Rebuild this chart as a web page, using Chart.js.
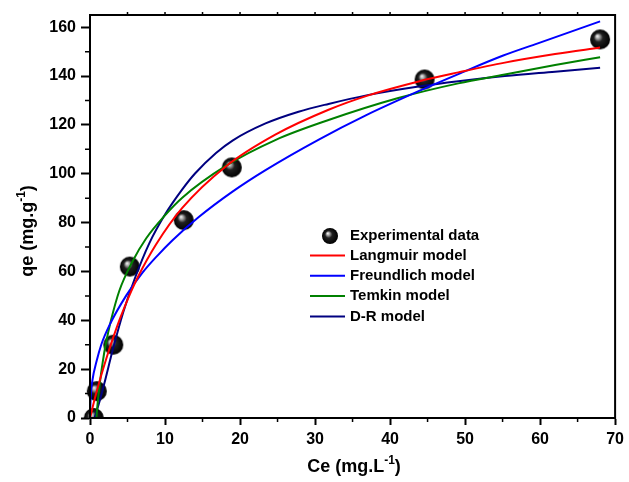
<!DOCTYPE html>
<html>
<head>
<meta charset="utf-8">
<script src="https://cdn.jsdelivr.net/npm/chart.js@4.4.1/dist/chart.umd.min.js"></script>
<style>
  html, body { margin: 0; padding: 0; background: #fff; }
  #wrap { width: 629px; height: 482px; position: relative; }
</style>
</head>
<body>
<div id="wrap"><canvas id="chart1"></canvas></div>
<script>
// ----------------------------
// Data
// ----------------------------
const expX = [0.5, 0.9, 3.1, 5.3, 12.5, 18.9, 44.6, 68.0];
const expY = [0.0, 11.0, 30.0, 62.0, 81.0, 102.6, 138.6, 155.0];

const langX = [0, 0.4, 0.8, 1.5, 2.4, 3.1, 4.1, 5.3, 6.35, 8.8, 12.3, 18.1, 24.7, 31.8, 37, 43.8, 49.1, 55.3, 62, 68];
const langY = [0, 5, 9.8, 17.5, 26.5, 33, 41.5, 50.5, 57.5, 71, 86, 103, 116, 126.2, 132, 137.8, 141.5, 145.5, 149, 151.7];

const freuX = [0, 0.1, 0.3, 0.9, 1.5, 2.6, 4.8, 7, 9, 11, 14.5, 19, 23.4, 30.5, 36.7, 43.8, 49.1, 55, 59.7, 68];
const freuY = [0, 9, 15, 23.5, 30, 38, 50, 59.5, 66.5, 72.8, 82.3, 92.7, 101.5, 114, 123.8, 133.8, 140.8, 148.3, 153.4, 162.4];

const temkX = [0.85, 1.0, 1.3, 1.7, 2.15, 2.8, 3.9, 5.7, 7.5, 10, 12.3, 18.1, 24.7, 31.8, 41.1, 49.1, 55.3, 62, 68];
const temkY = [0, 5.5, 14, 23, 31, 40, 52, 64.3, 73.6, 83, 90.2, 103.2, 113.8, 122, 131, 137, 140.6, 144.5, 147.7];

const drX = [0.6, 1.2, 1.9, 3.0, 4.4, 5.9, 7.9, 10, 12.3, 14, 16.8, 19, 23.4, 27.8, 31.8, 37, 43.8, 49.1, 55.3, 62, 68];
const drY = [0, 6, 14, 27.5, 43, 56.5, 71.5, 83.3, 93.6, 100.1, 108.5, 113.6, 120.6, 125.4, 128.6, 132.2, 135.7, 137.9, 140, 141.8, 143.4];

const xTicksMinor = [5, 15, 25, 35, 45, 55, 65];
const yTicksMinor = [10, 30, 50, 70, 90, 110, 130, 150];

const FONT = "'Liberation Sans', Arial, sans-serif";

// ----------------------------
// Helpers
// ----------------------------
function pts(xs, ys) { return xs.map((x, i) => ({ x: x, y: ys[i] })); }

function curve(label, xs, ys, color) {
  return {
    label,
    data: pts(xs, ys),
    showLine: true,
    borderColor: color,
    backgroundColor: color,
    borderWidth: 2,
    pointRadius: 0,
    cubicInterpolationMode: 'monotone',
    fill: false
  };
}

// shiny black ball marker
function makeBall(r) {
  const c = document.createElement('canvas');
  c.width = c.height = 2 * r + 2;
  const g = c.getContext('2d');
  const cx = r + 1, cy = r + 1;
  const grad = g.createRadialGradient(cx - r * 0.3, cy - r * 0.35, 0, cx, cy, r);
  grad.addColorStop(0, '#ffffff');
  grad.addColorStop(0.18, '#b0b0b0');
  grad.addColorStop(0.45, '#202020');
  grad.addColorStop(1, '#000000');
  g.fillStyle = grad;
  g.beginPath(); g.arc(cx, cy, r, 0, 2 * Math.PI); g.fill();
  return c;
}
const ball = makeBall(10);
const ballSmall = makeBall(8);

// ----------------------------
// Frame, minor ticks, titles, legend
// ----------------------------
const decor = {
  id: 'decor',
  afterDraw(chart) {
    const ctx = chart.ctx, a = chart.chartArea;
    const xs = chart.scales.x, ys = chart.scales.y;
    ctx.save();
    ctx.strokeStyle = '#000';
    ctx.lineWidth = 2;
    ctx.strokeRect(a.left, a.top, a.right - a.left, a.bottom - a.top);

    // minor ticks
    ctx.lineWidth = 1.5;
    ctx.beginPath();
    xTicksMinor.forEach(v => {
      const px = xs.getPixelForValue(v);
      ctx.moveTo(px, a.bottom); ctx.lineTo(px, a.bottom + 4);
    });
    yTicksMinor.forEach(v => {
      const py = ys.getPixelForValue(v);
      ctx.moveTo(a.left, py); ctx.lineTo(a.left - 5, py);
    });
    // small ticks on top frame
    for (let v = 5; v < 70; v += 5) {
      const px = xs.getPixelForValue(v);
      ctx.moveTo(px, a.top); ctx.lineTo(px, a.top - 3);
    }
    ctx.stroke();

    // axis titles with superscript
    function titleWithSup(base, sup, tail, x, y, rot) {
      ctx.save();
      ctx.translate(x, y);
      if (rot) ctx.rotate(-Math.PI / 2);
      ctx.fillStyle = '#000';
      ctx.textBaseline = 'alphabetic';
      const f1 = 'bold 18px ' + FONT, f2 = 'bold 12px ' + FONT;
      ctx.font = f1; const w1 = ctx.measureText(base).width, w3 = ctx.measureText(tail).width;
      ctx.font = f2; const w2 = ctx.measureText(sup).width;
      let x0 = -(w1 + w2 + w3) / 2;
      ctx.font = f1; ctx.fillText(base, x0, 0);
      ctx.font = f2; ctx.fillText(sup, x0 + w1, -8);
      ctx.font = f1; ctx.fillText(tail, x0 + w1 + w2, 0);
      ctx.restore();
    }
    titleWithSup('Ce (mg.L', '-1', ')', 354, 472, false);
    titleWithSup('qe (mg.g', '-1', ')', 33, 231, true);

    // legend
    const lx = 310, tx = 350;
    const items = chart.data.datasets.filter(d => d.showLine);
    ctx.drawImage(ballSmall, 330 - 9, 236 - 9);
    ctx.font = 'bold 15px ' + FONT;
    ctx.fillStyle = '#000';
    ctx.textBaseline = 'middle';
    ctx.fillText(chart.data.datasets[4].label, tx, 236);
    items.forEach((d, i) => {
      const y = 255.5 + i * 20.3;
      ctx.strokeStyle = d.borderColor;
      ctx.lineWidth = 2;
      ctx.beginPath(); ctx.moveTo(lx, y); ctx.lineTo(lx + 35, y); ctx.stroke();
      ctx.fillStyle = '#000';
      ctx.fillText(d.label, tx, y);
    });
    ctx.restore();
  }
};

// ----------------------------
// Chart
// ----------------------------
const ctx = document.getElementById('chart1').getContext('2d');
new Chart(ctx, {
  type: 'scatter',
  data: {
    datasets: [
      curve('Langmuir model', langX, langY, '#ff0000'),
      curve('Freundlich model', freuX, freuY, '#0000ff'),
      curve('Temkin model', temkX, temkY, '#008000'),
      curve('D-R model', drX, drY, '#000080'),
      {
        label: 'Experimental data',
        data: pts(expX, expY),
        pointStyle: ball,
        pointRadius: 10,
        showLine: false,
        clip: { left: 20, top: 20, right: 20, bottom: 0 }
      }
    ]
  },
  options: {
    responsive: true,
    maintainAspectRatio: false,
    animation: false,
    events: [],
    layout: { padding: { top: 15, right: 12, left: 0, bottom: 0 } },
    plugins: {
      legend: { display: false },
      tooltip: { enabled: false }
    },
    scales: {
      x: {
        type: 'linear',
        min: 0,
        max: 70,
        afterFit: s => { s.height = 64; },
        ticks: {
          stepSize: 10,
          color: '#000',
          font: { family: FONT, size: 16, weight: 'bold' },
          padding: 5,
          maxRotation: 0
        },
        grid: { drawOnChartArea: false, tickLength: 7, tickWidth: 2, tickColor: '#000' },
        border: { color: '#000', width: 2 }
      },
      y: {
        min: 0,
        max: 165,
        afterFit: s => { s.width = 90; },
        ticks: {
          stepSize: 20,
          includeBounds: false,
          color: '#000',
          font: { family: FONT, size: 16, weight: 'bold' },
          padding: 5
        },
        grid: { drawOnChartArea: false, tickLength: 9, tickWidth: 2, tickColor: '#000' },
        border: { color: '#000', width: 2 }
      }
    }
  },
  plugins: [decor]
});
</script>
</body>
</html>
